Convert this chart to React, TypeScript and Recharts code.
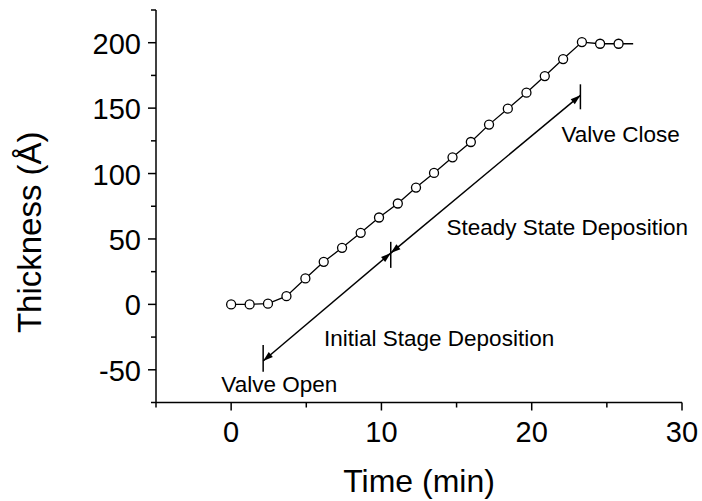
import React from 'react'
import {
  LineChart,
  Line,
  XAxis,
  YAxis,
  ReferenceLine,
  ReferenceDot,
} from 'recharts'

const FONT = "'Liberation Sans', Arial, Helvetica, sans-serif"

// measured thickness vs. time; the last entry is where the line stops (no marker)
const times = [
  0, 1.23, 2.45, 3.68, 4.94, 6.16, 7.38, 8.62, 9.84, 11.09, 12.3, 13.5, 14.73,
  15.95, 17.16, 18.41, 19.65, 20.87, 22.09, 23.34, 24.55, 25.78, 26.75,
]
const thickness = [
  0, 0, 0.5, 6.3, 19.8, 32.5, 43.2, 54.7, 66.4, 77.1, 89.3, 100.5, 112.4,
  124.1, 137.4, 149.6, 161.8, 174.5, 187.5, 200.5, 199.2, 199.2, 199.2,
]

const xTicks = [-5, 0, 5, 10, 15, 20, 25, 30]
const xMajor = [0, 10, 20, 30]
const yTicks = [-75, -50, -25, 0, 25, 50, 75, 100, 125, 150, 175, 200, 225]
const yMajor = [-50, 0, 50, 100, 150, 200]

// annotation geometry in data units (time, thickness)
const valveOpen = { t: 2.13, y: -43.3, top: -31.1, bottom: -51.5 }
const stageSplit = { t: 10.62, y: 39.2, top: 47.8, bottom: 27.9 }
const valveClose = { t: 23.24, y: 159.8, top: 168.2, bottom: 149.1 }

const notes = [
  { text: 'Valve Open', t: -0.65, y: -66.7 },
  { text: 'Initial Stage Deposition', t: 6.18, y: -31.6 },
  { text: 'Steady State Deposition', t: 14.33, y: 52.9 },
  { text: 'Valve Close', t: 21.98, y: 124.1 },
]

const data = times.map((t, i) => ({ time: t, thickness: thickness[i] }))

function XTick(props: any) {
  const { x, y, payload } = props
  const major = xMajor.includes(payload.value)
  return (
    <g>
      <line x1={x} y1={y} x2={x} y2={y + (major ? 8 : 5)} stroke="#000" strokeWidth={1.5} />
      {major && (
        <text x={x} y={y + 39} textAnchor="middle" fontSize={29} fontFamily={FONT} fill="#000">
          {payload.value}
        </text>
      )}
    </g>
  )
}

function YTick(props: any) {
  const { x, y, payload } = props
  const major = yMajor.includes(payload.value)
  return (
    <g>
      <line x1={x} y1={y} x2={x - (major ? 8 : 5)} y2={y} stroke="#000" strokeWidth={1.5} />
      {major && (
        <text x={x - 15} y={y + 11} textAnchor="end" fontSize={29} fontFamily={FONT} fill="#000">
          {payload.value}
        </text>
      )}
    </g>
  )
}

function XTitle(props: any) {
  const vb = props.viewBox
  return (
    <text x={vb.x + vb.width / 2} y={vb.y + 89} textAnchor="middle" fontSize={32} fontFamily={FONT} fill="#000">
      Time (min)
    </text>
  )
}

function YTitle(props: any) {
  const vb = props.viewBox
  const cx = vb.x + 41
  const cy = vb.y + vb.height / 2 + 26
  return (
    <text
      x={cx}
      y={cy}
      transform={`rotate(-90 ${cx} ${cy})`}
      textAnchor="middle"
      fontSize={33}
      fontFamily={FONT}
      fill="#000"
    >
      Thickness (Å)
    </text>
  )
}

function head(x: number, y: number, a: number) {
  const L = 10
  const W = 3.2
  const bx = x - L * Math.cos(a)
  const by = y - L * Math.sin(a)
  const px = -Math.sin(a) * W
  const py = Math.cos(a) * W
  return `${x},${y} ${bx + px},${by + py} ${bx - px},${by - py}`
}

function DoubleArrow(props: any) {
  const { x1, y1, x2, y2 } = props
  const ang = Math.atan2(y2 - y1, x2 - x1)
  return (
    <g>
      <line x1={x1} y1={y1} x2={x2} y2={y2} stroke="#000" strokeWidth={1.5} />
      <polygon points={head(x2, y2, ang)} fill="#000" />
      <polygon points={head(x1, y1, ang + Math.PI)} fill="#000" />
    </g>
  )
}

const noteShape = (text: string) => (p: any) => (
  <text x={p.cx} y={p.cy} fontSize={22.5} fontFamily={FONT} fill="#000">
    {text}
  </text>
)

const renderDot = (p: any) =>
  p.index === times.length - 1 ? (
    <g key={p.index} />
  ) : (
    <circle key={p.index} cx={p.cx} cy={p.cy} r={4.5} fill="#fff" stroke="#000" strokeWidth={1.3} />
  )

export default function App() {
  const markers = [valveOpen, stageSplit, valveClose]
  return (
    <div style={{ position: 'absolute', left: 0, top: 0, background: '#fff' }}>
      <LineChart width={702} height={501} data={data} margin={{ top: 10, right: 20, bottom: 0, left: 0 }}>
        <XAxis
          dataKey="time"
          type="number"
          domain={[-5, 30]}
          ticks={xTicks}
          interval={0}
          tickSize={0}
          tickMargin={0}
          tickLine={false}
          tick={<XTick />}
          axisLine={{ stroke: '#000', strokeWidth: 1.5 }}
          height={98.5}
          label={XTitle}
        />
        <YAxis
          type="number"
          domain={[-75, 225]}
          ticks={yTicks}
          interval={0}
          tickSize={0}
          tickMargin={0}
          tickLine={false}
          tick={<YTick />}
          axisLine={{ stroke: '#000', strokeWidth: 1.5 }}
          width={156}
          label={YTitle}
        />
        <ReferenceLine
          segment={[
            { x: valveOpen.t, y: valveOpen.y },
            { x: stageSplit.t, y: stageSplit.y },
          ]}
          ifOverflow="visible"
          shape={DoubleArrow}
        />
        <ReferenceLine
          segment={[
            { x: stageSplit.t, y: stageSplit.y },
            { x: valveClose.t, y: valveClose.y },
          ]}
          ifOverflow="visible"
          shape={DoubleArrow}
        />
        {markers.map((m, i) => (
          <ReferenceLine
            key={'m' + i}
            segment={[
              { x: m.t, y: m.top },
              { x: m.t, y: m.bottom },
            ]}
            ifOverflow="visible"
            stroke="#000"
            strokeWidth={1.5}
          />
        ))}
        {notes.map((n, i) => (
          <ReferenceDot
            key={'n' + i}
            x={n.t}
            y={n.y}
            r={0}
            ifOverflow="visible"
            shape={noteShape(n.text)}
          />
        ))}
        <Line
          type="linear"
          dataKey="thickness"
          stroke="#000"
          strokeWidth={1.3}
          dot={renderDot}
          activeDot={false}
          isAnimationActive={false}
        />
      </LineChart>
    </div>
  )
}
